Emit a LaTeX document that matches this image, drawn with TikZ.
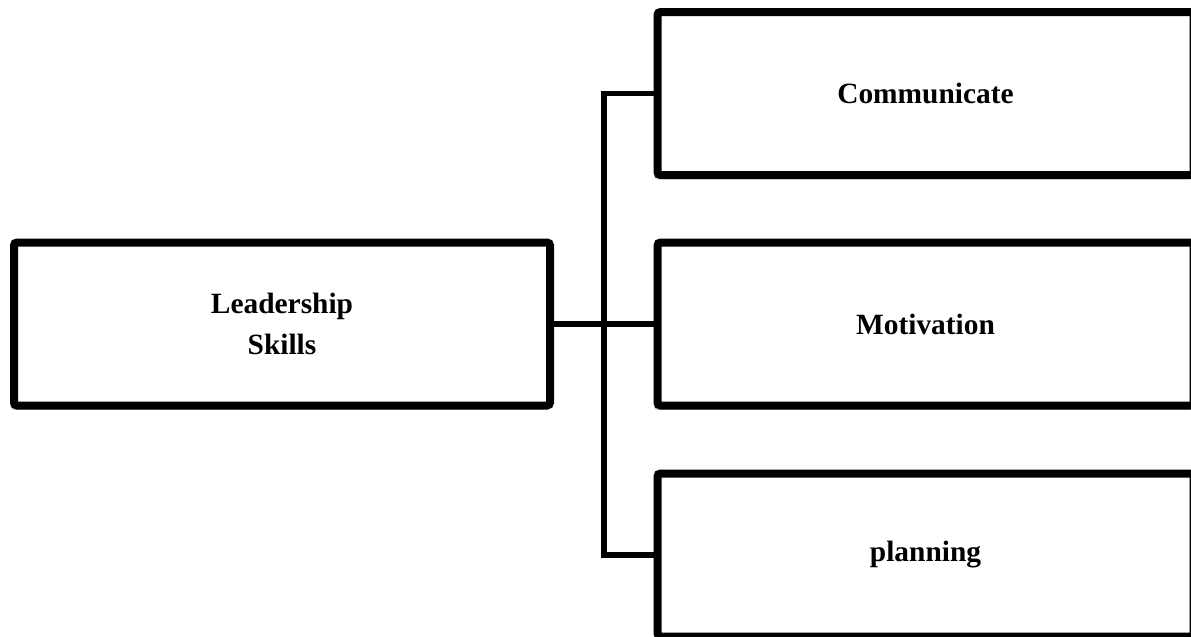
\documentclass[tikz,border=0pt]{standalone}
\usepackage{fontspec}
\setmainfont{Liberation Serif}
\usetikzlibrary{shadows}
\tikzset{
  box/.style={draw=black, line width=4pt, fill=white, rounded corners=1.5pt,
    minimum width=268pt, minimum height=81.5pt, inner sep=0pt,
    font=\fontsize{14.7pt}{20.5pt}\selectfont\bfseries, align=center,
    general shadow={fill=black!18, shadow xshift=-1.8pt, shadow yshift=-2.2pt}},
  conn/.style={draw=black, line width=2.6pt}
}
\begin{document}
\begin{tikzpicture}[x=0.5pt, y=-0.5pt]
  \useasboundingbox (0,0) rectangle (1191,637);
  \clip (0,0) rectangle (1191,637);
  \fill[white] (0,0) rectangle (1191,637);
  % trunk corners of the bracket connector
  \coordinate (ttop) at (604,93.5);
  \coordinate (tbot) at (604,555);
  % boxes
  \node[box] (L) at (282,324) {Leadership\\Skills};
  \node[box] (C) at (925.5,93.5) {Communicate};
  \node[box] (M) at (925.5,324) {Motivation};
  \node[box] (P) at (925.5,555) {planning};
  % connectors
  \draw[conn] (C.west) -- (ttop) -- (tbot) -- (P.west);
  \draw[conn] (L.east) -- (M.west);
\end{tikzpicture}
\end{document}
